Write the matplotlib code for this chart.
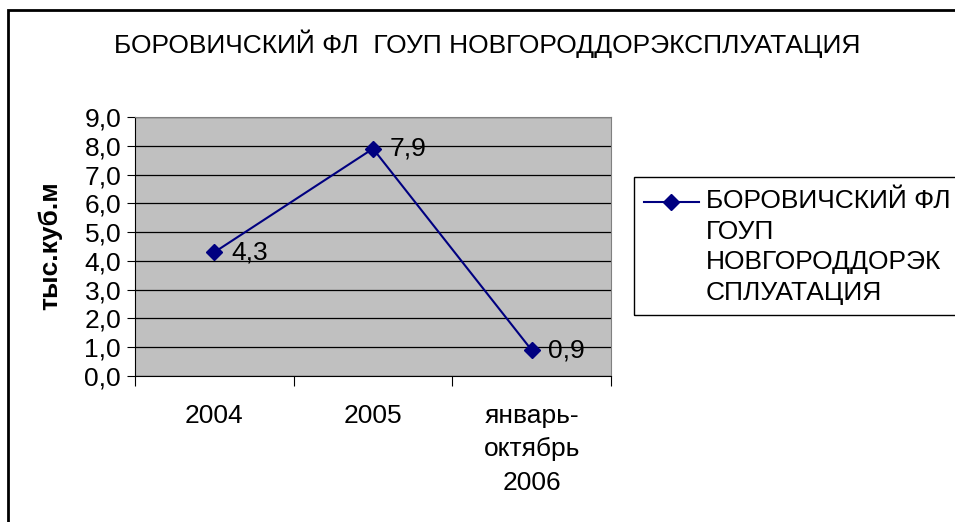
import matplotlib.pyplot as plt
from matplotlib.patches import Rectangle
from matplotlib.lines import Line2D
from matplotlib.ticker import FuncFormatter

plt.rcParams['font.family'] = ['Liberation Sans', 'DejaVu Sans']

categories = ['2004', '2005', 'январь-\nоктябрь\n2006']
values = [4.3, 7.9, 0.9]
value_labels = ['4,3', '7,9', '0,9']
series_name = 'БОРОВИЧСКИЙ ФЛ\nГОУП\nНОВГОРОДДОРЭК\nСПЛУАТАЦИЯ'
title = 'БОРОВИЧСКИЙ ФЛ  ГОУП НОВГОРОДДОРЭКСПЛУАТАЦИЯ'
ylabel = 'тыс.куб.м'

W, H = 955, 522
FS = 19
fig = plt.figure(figsize=(W / 100, H / 100), dpi=100)

def fx(px):
    return px / W

def fy(py):
    return 1 - py / H

# outer chart border
fig.patches.append(Rectangle((fx(8), fy(600)), 2, fy(10) - fy(600), transform=fig.transFigure,
                             fill=False, edgecolor='black', linewidth=2))

ax = fig.add_axes([fx(135), fy(376), fx(611) - fx(135), fy(117) - fy(376)])
ax.set_facecolor('#C0C0C0')

x = list(range(len(categories)))
ax.plot(x, values, color='#000080', linewidth=1.5, marker='D', markersize=8)
for xi, v, lab in zip(x, values, value_labels):
    ax.annotate(lab, (xi, v), xytext=(12, 0), textcoords='offset points',
                va='center', ha='left', fontsize=FS)

ax.set_xlim(-0.5, len(categories) - 0.5)
ax.set_ylim(0, 9)
ax.set_yticks([i for i in range(10)])
ax.yaxis.set_major_formatter(FuncFormatter(lambda v, p: f'{v:.1f}'.replace('.', ',')))
ax.set_xticks([i - 0.5 for i in range(len(categories) + 1)], minor=False)
ax.set_xticklabels([])
ax.set_xticks(x, minor=True)
ax.set_xticklabels(categories, minor=True, fontsize=FS, linespacing=1.5)
ax.tick_params(axis='x', which='minor', length=0, pad=20)
ax.tick_params(axis='x', which='major', length=7, direction='out')
ax.tick_params(axis='y', labelsize=FS, length=6, direction='out', pad=4)
ax.yaxis.grid(True, color='black', linewidth=0.9)
ax.set_axisbelow(True)
for side in ['top', 'right']:
    ax.spines[side].set_color('#808080')

fig.text(fx(50), fy(246), ylabel, ha='center', va='center', rotation=90,
         fontsize=FS, fontweight='bold')
fig.text(fx(487), fy(44), title, ha='center', va='center', fontsize=FS)

# legend box drawn by hand
fig.patches.append(Rectangle((fx(634), fy(315)), fx(400), fy(177) - fy(315), transform=fig.transFigure,
                             fill=False, edgecolor='black', linewidth=1))
fig.lines.append(Line2D([fx(644), fx(699)], [fy(202), fy(202)], transform=fig.transFigure,
                        color='#000080', linewidth=1.5))
fig.lines.append(Line2D([fx(671)], [fy(202)], transform=fig.transFigure,
                        color='#000080', marker='D', markersize=8))
fig.text(fx(706), fy(189), series_name, ha='left', va='top', fontsize=FS, linespacing=1.35)

fig.savefig('out.png', dpi=100)
